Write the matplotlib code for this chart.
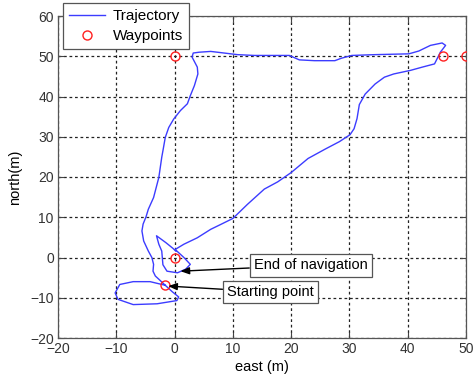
import matplotlib
matplotlib.use("Agg")
import matplotlib.pyplot as plt

plt.rcParams['font.family'] = ['Liberation Sans', 'DejaVu Sans']

# Trajectory (east, north) in metres
traj_east = [-1.6, -4.2, -7.1, -9.4, -10.2, -9.7, -7.1, -3.0, 0.4, 0.7, -0.4, -1.6,
             -2.7, -3.3, -3.7, -3.6, -3.9, -4.5, -5.3, -5.6, -5.4, -4.9, -4.5, -3.6,
             -2.7, -2.2, -2.0, -1.6, -1.0, -0.15, 1.0, 2.2, 2.7, 3.4, 4.0, 3.9, 3.0,
             3.2, 4.2, 6.2, 8.5, 10.8, 13.7, 19.7, 21.4, 24.0, 27.5, 28.6, 30.4, 34.4,
             40.2, 41.9, 43.9, 45.9, 46.5, 45.6, 44.6, 42.5, 40.5, 37.6, 36.0, 34.4,
             32.7, 31.7, 31.3, 30.8, 30.1, 28.3, 25.8, 22.9, 20.0, 17.7, 15.4, 12.5,
             10.0, 7.9, 6.2, 3.9, 1.6, 0.1, 1.6, 2.7, 1.9, 0.5, -1.3, -2.0, -2.2,
             -2.7, -3.1, -1.5, -0.3, 0.2]
traj_north = [-6.9, -6.0, -6.0, -6.7, -8.8, -10.4, -11.7, -11.5, -10.7, -9.8, -8.5, -6.9,
              -5.4, -4.6, -3.4, -1.7, 0.0, 1.6, 4.1, 6.6, 8.3, 10.1, 12.0, 14.9,
              19.9, 24.9, 26.5, 29.8, 32.3, 34.4, 36.5, 38.2, 40.2, 42.7, 45.6, 47.3, 49.8,
              50.8, 51.0, 51.2, 50.8, 50.4, 50.2, 50.2, 49.1, 48.9, 48.9, 49.5, 50.2, 50.4,
              50.6, 51.3, 52.7, 53.3, 52.7, 51.0, 48.1, 47.3, 46.5, 45.6, 44.8, 43.1,
              40.6, 38.0, 34.5, 32.0, 30.5, 28.8, 26.9, 24.6, 21.1, 18.8, 17.0, 13.2,
              9.7, 8.2, 7.0, 4.9, 3.3, 2.0, 0.0, -1.7, -2.9, -3.8, -3.4, -1.8, 1.6,
              3.3, 5.4, 3.7, 2.3, 1.6]

way_east = [0, 46, 50, 0, -1.6]
way_north = [50, 50, 50, 0, -6.9]

xticks = [-20, -10, 0, 10, 20, 30, 40, 50]
yticks = [-20, -10, 0, 10, 20, 30, 40, 50, 60]

end_label = "End of navigation"
end_tip = (1.0, -3.4)
end_text = (23.4, -1.9)
start_label = "Starting point"
start_tip = (-1.1, -7.1)
start_text = (16.5, -8.6)

fig = plt.figure(figsize=(4.77, 3.81), dpi=100)
fig.patch.set_facecolor('white')
ax = fig.add_axes([58/477, 1-338/381, 408/477, 322/381])

ax.plot(traj_east, traj_north, color='#3c3cff', lw=1.0, label='Trajectory', zorder=3)
ax.plot(way_east, way_north, linestyle='none', marker='o', ms=6.5, mfc='none',
        mec='#ff2020', mew=1.0, label='Waypoints', zorder=4)

ax.set_xlim(-20, 50)
ax.set_ylim(-20, 60)
ax.set_xticks(xticks)
ax.set_yticks(yticks)
ax.grid(True, color='#222222', linestyle=(0, (2.2, 2.2)), linewidth=0.9)
ax.set_axisbelow(True)
ax.tick_params(direction='in', length=4, width=0.8, colors='#444444',
               labelcolor='#333333', labelsize=10, top=True, right=True, pad=3)
for s in ax.spines.values():
    s.set_color('#555555')
    s.set_linewidth(0.9)

ax.set_xlabel('east (m)', fontsize=10.5, labelpad=3)
ax.set_ylabel('north(m)', fontsize=10.5, labelpad=6)

bbox = dict(boxstyle='square,pad=0.3', fc='white', ec='#555555', lw=0.9)
arrow = dict(arrowstyle='-|>,head_length=0.5,head_width=0.2', color='black', lw=1.0,
             shrinkA=0, shrinkB=0)
ax.annotate(end_label, xy=end_tip, xytext=end_text, ha='center', va='center',
            fontsize=10.5, bbox=bbox, arrowprops=arrow, zorder=5)
ax.annotate(start_label, xy=start_tip, xytext=start_text, ha='center', va='center',
            fontsize=10.5, bbox=bbox, arrowprops=arrow, zorder=5)

leg = ax.legend(loc='upper left', bbox_to_anchor=(0.012, 1.04), borderaxespad=0,
                fancybox=False, edgecolor='#555555', framealpha=1, fontsize=11,
                handlelength=2.35, borderpad=0.4, labelspacing=0.4, handletextpad=0.5)
leg.get_frame().set_linewidth(0.9)

fig.savefig('out.png', dpi=100, facecolor='white')
